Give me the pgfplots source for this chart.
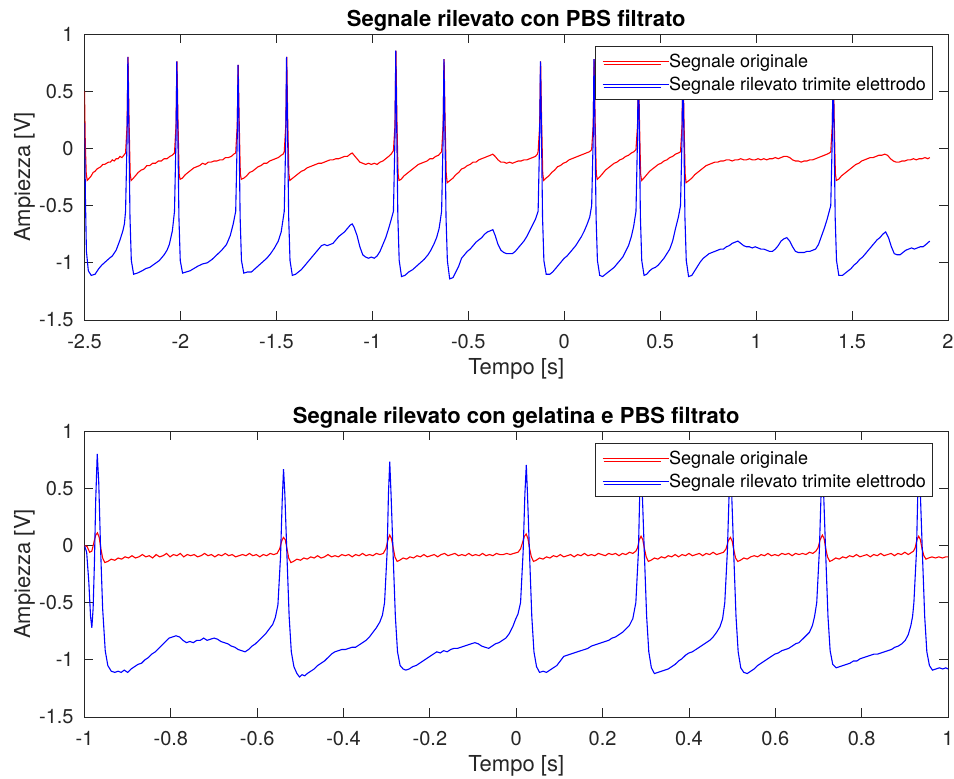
\documentclass[border=0pt]{standalone}
\usepackage{fontspec}
\setmainfont{TeX Gyre Heros}
\usepackage{pgfplots}
\pgfplotsset{compat=1.18}
\definecolor{axgray}{rgb}{0.15,0.15,0.15}
\definecolor{mred}{rgb}{1,0,0}
\definecolor{mblue}{rgb}{0,0,1}

\pgfplotsset{
  mlab/.style={
    scale only axis, width=431.75pt, height=143pt,
    ymin=-1.5, ymax=1, ytick={-1.5,-1,-0.5,0,0.5,1},
    axis line style={draw=axgray, line width=0.45pt},
    tick style={draw=axgray, line width=0.45pt},
    major tick length=4.3pt, tick align=inside,
    /pgf/number format/assume math mode=true,
    tick label style={font=\fontsize{10}{12}\selectfont, text=axgray},
    xticklabel style={anchor=base, yshift=-14.3pt},
    yticklabel style={anchor=east, inner sep=0pt, xshift=-5.25pt},
    every axis x label/.style={at={(axis description cs:0.5,-0.189)}, anchor=base,
      font=\fontsize{11}{13}\selectfont, text=axgray},
    every axis y label/.style={at={(axis description cs:-0.063,0.5)}, rotate=90, anchor=base,
      font=\fontsize{11}{13}\selectfont, text=axgray},
    every axis title shift=0pt,
    title style={at={(axis description cs:0.5,1.026)}, anchor=base,
      font=\bfseries\fontsize{11}{13}\selectfont},
    xlabel={Tempo [s]}, ylabel={Ampiezza [V]},
    legend style={at={(axis description cs:1,1)}, anchor=north east,
      xshift=-7.35pt, yshift=-6pt, draw=axgray, line width=0.45pt, fill=white,
      inner xsep=3.5pt, inner ysep=2.2pt, row sep=0.5pt,
      font=\fontsize{9}{11}\selectfont,
      nodes={inner sep=0pt, text height=8.5pt, text depth=2.3pt}},
    legend cell align=left,
    legend image code/.code={\draw[#1] (0.5pt,-1.4pt) -- (29pt,-1.4pt); \path (0pt,0pt) -- (33pt,0pt);},
  },
  sred/.style={mred, line width=0.55pt},
  sblue/.style={mblue, line width=0.55pt},
}

\begin{document}
\begin{tikzpicture}
\begin{axis}[mlab, at={(42.25pt,-17pt)}, anchor=north west,
  xmin=-2.5, xmax=2, xtick={-2.5,-2,-1.5,-1,-0.5,0,0.5,1,1.5,2},
  title={Segnale rilevato con PBS filtrato}]
\addplot[sred] coordinates {
(-2.500,0.50) (-2.496,0.05) (-2.491,-0.22) (-2.486,-0.28) (-2.475,-0.26) (-2.465,-0.24)
(-2.455,-0.21) (-2.445,-0.20) (-2.435,-0.18) (-2.425,-0.17) (-2.415,-0.16) (-2.405,-0.14)
(-2.395,-0.14) (-2.385,-0.13) (-2.375,-0.12) (-2.365,-0.12) (-2.355,-0.10) (-2.345,-0.11)
(-2.335,-0.09) (-2.325,-0.09) (-2.315,-0.07) (-2.305,-0.08) (-2.295,-0.06) (-2.286,-0.04)
(-2.278,0.20) (-2.273,0.80) (-2.268,0.25) (-2.262,-0.22) (-2.257,-0.28)
(-2.245,-0.26) (-2.235,-0.24) (-2.22,-0.21) (-2.205,-0.19) (-2.19,-0.18) (-2.175,-0.15)
(-2.16,-0.15) (-2.145,-0.13) (-2.13,-0.13) (-2.115,-0.11) (-2.10,-0.11) (-2.085,-0.09)
(-2.07,-0.09) (-2.055,-0.07) (-2.043,-0.06) (-2.031,-0.04)
(-2.023,0.20) (-2.018,0.76) (-2.013,0.25) (-2.007,-0.22) (-2.002,-0.27)
(-1.99,-0.26) (-1.975,-0.23) (-1.96,-0.21) (-1.945,-0.19) (-1.93,-0.17) (-1.915,-0.16)
(-1.90,-0.15) (-1.885,-0.13) (-1.87,-0.14) (-1.855,-0.12) (-1.84,-0.12) (-1.825,-0.11)
(-1.81,-0.11) (-1.795,-0.10) (-1.78,-0.10) (-1.765,-0.08) (-1.75,-0.08) (-1.735,-0.07)
(-1.722,-0.05) (-1.712,-0.04)
(-1.704,0.20) (-1.699,0.73) (-1.694,0.25) (-1.688,-0.22) (-1.683,-0.27)
(-1.67,-0.26) (-1.655,-0.24) (-1.64,-0.21) (-1.625,-0.20) (-1.61,-0.18) (-1.595,-0.16)
(-1.58,-0.15) (-1.565,-0.13) (-1.55,-0.13) (-1.535,-0.11) (-1.52,-0.10) (-1.505,-0.09)
(-1.49,-0.08) (-1.475,-0.06) (-1.465,-0.05) (-1.459,-0.03)
(-1.451,0.20) (-1.446,0.80) (-1.441,0.25) (-1.435,-0.22) (-1.430,-0.28)
(-1.415,-0.26) (-1.40,-0.24) (-1.385,-0.22) (-1.37,-0.20) (-1.355,-0.19) (-1.34,-0.17)
(-1.325,-0.16) (-1.31,-0.15) (-1.295,-0.14) (-1.28,-0.13) (-1.265,-0.13) (-1.25,-0.12)
(-1.235,-0.11) (-1.22,-0.10) (-1.205,-0.10) (-1.19,-0.09) (-1.175,-0.09) (-1.16,-0.08)
(-1.145,-0.07) (-1.13,-0.07) (-1.115,-0.05) (-1.105,-0.04) (-1.095,-0.06) (-1.08,-0.09)
(-1.065,-0.12) (-1.05,-0.13) (-1.035,-0.14) (-1.02,-0.13) (-1.005,-0.14) (-0.99,-0.13)
(-0.975,-0.14) (-0.96,-0.12) (-0.945,-0.11) (-0.93,-0.09) (-0.915,-0.07) (-0.902,-0.05)
(-0.890,-0.02)
(-0.882,0.20) (-0.877,0.855) (-0.872,0.25) (-0.866,-0.22) (-0.861,-0.28)
(-0.85,-0.27) (-0.835,-0.24) (-0.82,-0.22) (-0.805,-0.20) (-0.79,-0.18) (-0.775,-0.16)
(-0.76,-0.14) (-0.745,-0.13) (-0.73,-0.12) (-0.715,-0.11) (-0.70,-0.09) (-0.685,-0.09)
(-0.67,-0.07) (-0.655,-0.06) (-0.645,-0.04) (-0.639,-0.03)
(-0.631,0.20) (-0.626,0.78) (-0.621,0.25) (-0.615,-0.22) (-0.610,-0.30)
(-0.595,-0.28) (-0.58,-0.26) (-0.565,-0.23) (-0.55,-0.21) (-0.535,-0.18) (-0.52,-0.17)
(-0.505,-0.15) (-0.49,-0.14) (-0.475,-0.12) (-0.46,-0.12) (-0.445,-0.10) (-0.43,-0.09)
(-0.415,-0.08) (-0.40,-0.07) (-0.385,-0.06) (-0.372,-0.05) (-0.36,-0.07) (-0.345,-0.10)
(-0.33,-0.12) (-0.315,-0.12) (-0.30,-0.13) (-0.285,-0.12) (-0.27,-0.13) (-0.255,-0.12)
(-0.24,-0.11) (-0.225,-0.11) (-0.21,-0.10) (-0.195,-0.10) (-0.18,-0.09) (-0.165,-0.08)
(-0.15,-0.07) (-0.14,-0.05) (-0.136,-0.03)
(-0.128,0.20) (-0.123,0.76) (-0.118,0.25) (-0.112,-0.22) (-0.107,-0.28)
(-0.095,-0.26) (-0.08,-0.24) (-0.065,-0.21) (-0.05,-0.19) (-0.035,-0.16) (-0.02,-0.15)
(-0.005,-0.13) (0.01,-0.12) (0.025,-0.10) (0.04,-0.09) (0.055,-0.08) (0.07,-0.07)
(0.085,-0.06) (0.10,-0.05) (0.115,-0.04) (0.13,-0.03) (0.138,-0.02) (0.143,-0.01)
(0.151,0.20) (0.156,0.78) (0.161,0.25) (0.167,-0.22) (0.172,-0.27)
(0.185,-0.25) (0.20,-0.22) (0.215,-0.19) (0.23,-0.17) (0.245,-0.15) (0.26,-0.13)
(0.275,-0.12) (0.29,-0.10) (0.305,-0.09) (0.32,-0.07) (0.335,-0.06) (0.35,-0.04)
(0.362,-0.03) (0.374,-0.01)
(0.382,0.20) (0.387,0.78) (0.392,0.25) (0.398,-0.22) (0.403,-0.28)
(0.415,-0.26) (0.43,-0.23) (0.445,-0.20) (0.46,-0.18) (0.475,-0.16) (0.49,-0.14)
(0.505,-0.13) (0.52,-0.11) (0.535,-0.10) (0.55,-0.08) (0.565,-0.07) (0.58,-0.05)
(0.595,-0.04) (0.606,-0.03)
(0.614,0.20) (0.619,0.78) (0.624,0.25) (0.630,-0.22) (0.635,-0.30)
(0.65,-0.28) (0.665,-0.26) (0.68,-0.23) (0.695,-0.21) (0.71,-0.19) (0.725,-0.17)
(0.74,-0.15) (0.755,-0.14) (0.77,-0.13) (0.785,-0.12) (0.80,-0.12) (0.815,-0.11)
(0.83,-0.11) (0.845,-0.10) (0.86,-0.10) (0.875,-0.11) (0.89,-0.10) (0.905,-0.10)
(0.92,-0.09) (0.935,-0.10) (0.95,-0.10) (0.965,-0.09) (0.98,-0.10) (0.995,-0.10)
(1.01,-0.09) (1.025,-0.10) (1.04,-0.09) (1.055,-0.10) (1.07,-0.09) (1.085,-0.09)
(1.10,-0.08) (1.115,-0.09) (1.13,-0.08) (1.145,-0.07) (1.16,-0.07) (1.175,-0.08)
(1.19,-0.10) (1.205,-0.11) (1.22,-0.11) (1.235,-0.12) (1.25,-0.11) (1.265,-0.11)
(1.28,-0.10) (1.295,-0.10) (1.31,-0.09) (1.325,-0.08) (1.34,-0.07) (1.355,-0.06)
(1.37,-0.05) (1.382,-0.04) (1.389,-0.03)
(1.397,0.20) (1.402,0.75) (1.407,0.25) (1.413,-0.22) (1.418,-0.28)
(1.43,-0.27) (1.445,-0.24) (1.46,-0.22) (1.475,-0.20) (1.49,-0.18) (1.505,-0.16)
(1.52,-0.14) (1.535,-0.13) (1.55,-0.11) (1.565,-0.10) (1.58,-0.09) (1.595,-0.08)
(1.61,-0.08) (1.625,-0.07) (1.64,-0.06) (1.655,-0.06) (1.67,-0.05) (1.685,-0.06)
(1.70,-0.09) (1.715,-0.11) (1.73,-0.12) (1.745,-0.12) (1.76,-0.11) (1.775,-0.11)
(1.79,-0.10) (1.805,-0.10) (1.82,-0.09) (1.835,-0.10) (1.85,-0.09) (1.865,-0.09)
(1.88,-0.08) (1.895,-0.09) (1.905,-0.08)
};
\addplot[sblue] coordinates {
(-2.500,0.22) (-2.495,-0.45) (-2.490,-0.90) (-2.480,-1.07) (-2.465,-1.11) (-2.445,-1.10)
(-2.425,-1.05) (-2.41,-1.02) (-2.39,-0.99) (-2.37,-0.96) (-2.355,-0.94) (-2.335,-0.89)
(-2.315,-0.80) (-2.30,-0.72) (-2.292,-0.66) (-2.286,-0.55)
(-2.278,0.10) (-2.274,0.80) (-2.269,0.20) (-2.263,-0.60) (-2.256,-0.98) (-2.244,-1.10)
(-2.225,-1.09) (-2.20,-1.07) (-2.18,-1.05) (-2.16,-1.04) (-2.135,-1.01) (-2.11,-0.98)
(-2.085,-0.93) (-2.07,-0.89) (-2.058,-0.84) (-2.042,-0.72) (-2.031,-0.55)
(-2.023,0.10) (-2.019,0.76) (-2.014,0.20) (-2.008,-0.60) (-2.001,-0.98) (-1.989,-1.09)
(-1.97,-1.08) (-1.95,-1.07) (-1.93,-1.05) (-1.91,-1.03) (-1.885,-1.01) (-1.86,-1.00)
(-1.835,-0.97) (-1.81,-0.93) (-1.785,-0.89) (-1.76,-0.84) (-1.74,-0.76) (-1.725,-0.66)
(-1.712,-0.55)
(-1.704,0.10) (-1.700,0.73) (-1.695,0.20) (-1.689,-0.60) (-1.682,-0.98) (-1.670,-1.09)
(-1.65,-1.08) (-1.63,-1.08) (-1.61,-1.05) (-1.59,-1.02) (-1.57,-0.99) (-1.55,-0.96)
(-1.53,-0.92) (-1.51,-0.87) (-1.49,-0.81) (-1.475,-0.73) (-1.459,-0.55)
(-1.451,0.10) (-1.447,0.80) (-1.442,0.20) (-1.436,-0.60) (-1.429,-0.98) (-1.417,-1.11)
(-1.40,-1.10) (-1.385,-1.08) (-1.37,-1.06) (-1.355,-1.03) (-1.34,-1.00) (-1.325,-0.97)
(-1.31,-0.94) (-1.295,-0.91) (-1.28,-0.88) (-1.265,-0.85) (-1.25,-0.84) (-1.235,-0.85)
(-1.22,-0.84) (-1.205,-0.83) (-1.19,-0.80) (-1.175,-0.77) (-1.16,-0.75) (-1.145,-0.73)
(-1.13,-0.70) (-1.115,-0.67) (-1.105,-0.66) (-1.095,-0.69) (-1.08,-0.76) (-1.065,-0.86)
(-1.05,-0.93) (-1.035,-0.95) (-1.02,-0.96) (-1.005,-0.95) (-0.99,-0.96) (-0.975,-0.94)
(-0.96,-0.90) (-0.945,-0.84) (-0.93,-0.78) (-0.915,-0.70) (-0.903,-0.63) (-0.890,-0.55)
(-0.882,0.10) (-0.878,0.855) (-0.873,0.20) (-0.867,-0.60) (-0.860,-0.98) (-0.848,-1.12)
(-0.83,-1.11) (-0.81,-1.08) (-0.79,-1.06) (-0.77,-1.03) (-0.75,-1.00) (-0.73,-0.97)
(-0.71,-0.93) (-0.695,-0.89) (-0.68,-0.84) (-0.665,-0.78) (-0.652,-0.70) (-0.639,-0.55)
(-0.631,0.10) (-0.627,0.78) (-0.622,0.20) (-0.616,-0.60) (-0.609,-0.98) (-0.597,-1.14)
(-0.58,-1.13) (-0.565,-1.08) (-0.55,-1.03) (-0.535,-0.96) (-0.52,-0.93) (-0.505,-0.90)
(-0.49,-0.88) (-0.475,-0.85) (-0.46,-0.82) (-0.445,-0.80) (-0.43,-0.78) (-0.415,-0.75)
(-0.40,-0.73) (-0.385,-0.72) (-0.372,-0.71) (-0.36,-0.76) (-0.345,-0.84) (-0.33,-0.89)
(-0.315,-0.91) (-0.30,-0.92) (-0.285,-0.92) (-0.27,-0.92) (-0.255,-0.90) (-0.24,-0.87)
(-0.225,-0.84) (-0.21,-0.81) (-0.195,-0.77) (-0.18,-0.72) (-0.165,-0.67) (-0.15,-0.62)
(-0.136,-0.55)
(-0.128,0.10) (-0.124,0.76) (-0.119,0.20) (-0.113,-0.60) (-0.106,-0.98) (-0.094,-1.10)
(-0.075,-1.10) (-0.06,-1.08) (-0.045,-1.05) (-0.03,-1.02) (-0.015,-0.99) (0.00,-0.96)
(0.015,-0.94) (0.03,-0.91) (0.045,-0.88) (0.06,-0.85) (0.075,-0.81) (0.09,-0.77)
(0.105,-0.72) (0.12,-0.66) (0.133,-0.60) (0.143,-0.50)
(0.151,0.10) (0.155,0.78) (0.160,0.20) (0.166,-0.60) (0.173,-0.98) (0.185,-1.11)
(0.20,-1.12) (0.215,-1.10) (0.23,-1.08) (0.245,-1.06) (0.26,-1.04) (0.275,-1.01)
(0.29,-0.98) (0.305,-0.95) (0.32,-0.90) (0.335,-0.85) (0.35,-0.77) (0.362,-0.68)
(0.374,-0.55)
(0.382,0.10) (0.386,0.78) (0.391,0.20) (0.397,-0.60) (0.404,-0.98) (0.416,-1.11)
(0.43,-1.10) (0.445,-1.07) (0.46,-1.05) (0.475,-1.04) (0.49,-1.02) (0.505,-0.99)
(0.52,-0.96) (0.535,-0.92) (0.55,-0.88) (0.565,-0.81) (0.58,-0.70) (0.595,-0.60)
(0.606,-0.50)
(0.614,0.10) (0.618,0.78) (0.623,0.20) (0.629,-0.60) (0.636,-0.98) (0.648,-1.12)
(0.665,-1.11) (0.68,-1.07) (0.695,-1.03) (0.71,-0.99) (0.725,-0.96) (0.74,-0.94)
(0.755,-0.92) (0.77,-0.91) (0.785,-0.90) (0.80,-0.89) (0.815,-0.88) (0.83,-0.88)
(0.845,-0.86) (0.86,-0.85) (0.875,-0.83) (0.89,-0.82) (0.905,-0.81) (0.92,-0.83)
(0.935,-0.85) (0.95,-0.86) (0.965,-0.86) (0.98,-0.87) (0.995,-0.86) (1.01,-0.87)
(1.025,-0.88) (1.04,-0.88) (1.055,-0.89) (1.07,-0.90) (1.085,-0.90) (1.10,-0.88)
(1.115,-0.85) (1.13,-0.81) (1.145,-0.79) (1.16,-0.78) (1.175,-0.81) (1.19,-0.86)
(1.205,-0.90) (1.22,-0.91) (1.235,-0.91) (1.25,-0.91) (1.265,-0.90) (1.28,-0.90)
(1.295,-0.89) (1.31,-0.88) (1.325,-0.84) (1.34,-0.77) (1.355,-0.70) (1.37,-0.62)
(1.389,-0.50)
(1.397,0.10) (1.401,0.75) (1.406,0.20) (1.412,-0.60) (1.419,-0.98) (1.431,-1.11)
(1.45,-1.11) (1.465,-1.09) (1.48,-1.07) (1.495,-1.05) (1.51,-1.02) (1.525,-1.00)
(1.54,-0.97) (1.555,-0.95) (1.57,-0.92) (1.585,-0.89) (1.60,-0.86) (1.615,-0.83)
(1.63,-0.80) (1.645,-0.78) (1.66,-0.75) (1.675,-0.73) (1.69,-0.78) (1.705,-0.86)
(1.72,-0.92) (1.735,-0.93) (1.75,-0.93) (1.765,-0.91) (1.78,-0.89) (1.795,-0.88)
(1.81,-0.87) (1.825,-0.88) (1.84,-0.87) (1.855,-0.86) (1.87,-0.86) (1.885,-0.84)
(1.905,-0.81)
};
\legend{Segnale originale, Segnale rilevato trimite elettrodo}
\end{axis}

\begin{axis}[mlab, at={(42.25pt,-215.5pt)}, anchor=north west,
  xmin=-1, xmax=1, xtick={-1,-0.8,-0.6,-0.4,-0.2,0,0.2,0.4,0.6,0.8,1},
  title={Segnale rilevato con gelatina e PBS filtrato}]
\addplot[sred] coordinates {
(-1.000,0.00) (-0.994,-0.01) (-0.988,-0.06) (-0.983,-0.05) (-0.978,0.03) (-0.974,0.09)
(-0.970,0.11) (-0.966,0.07) (-0.962,-0.03) (-0.958,-0.11) (-0.953,-0.15) (-0.946,-0.14)
(-0.938,-0.12) (-0.930,-0.13) (-0.922,-0.11) (-0.914,-0.12) (-0.906,-0.10) (-0.898,-0.11)
(-0.890,-0.09) (-0.882,-0.11) (-0.874,-0.10) (-0.866,-0.08) (-0.858,-0.10) (-0.850,-0.09)
(-0.842,-0.11) (-0.834,-0.08) (-0.826,-0.10) (-0.818,-0.09) (-0.810,-0.07) (-0.802,-0.10)
(-0.794,-0.08) (-0.786,-0.09) (-0.778,-0.07) (-0.770,-0.10) (-0.762,-0.08) (-0.754,-0.09)
(-0.746,-0.08) (-0.738,-0.10) (-0.730,-0.09) (-0.722,-0.07) (-0.714,-0.09) (-0.706,-0.08)
(-0.698,-0.10) (-0.690,-0.08) (-0.682,-0.09) (-0.674,-0.07) (-0.666,-0.09) (-0.658,-0.08)
(-0.650,-0.10) (-0.642,-0.09) (-0.634,-0.08) (-0.626,-0.09) (-0.618,-0.07) (-0.610,-0.09)
(-0.602,-0.08) (-0.594,-0.10) (-0.586,-0.08) (-0.578,-0.09) (-0.570,-0.07) (-0.562,-0.08)
(-0.554,-0.07) (-0.548,-0.03) (-0.543,0.04) (-0.539,0.07) (-0.535,0.05) (-0.531,-0.03)
(-0.527,-0.11) (-0.522,-0.15) (-0.516,-0.14) (-0.508,-0.12) (-0.500,-0.13) (-0.492,-0.11)
(-0.484,-0.12) (-0.476,-0.10) (-0.468,-0.11) (-0.460,-0.09) (-0.452,-0.11) (-0.444,-0.10)
(-0.436,-0.08) (-0.428,-0.10) (-0.420,-0.09) (-0.412,-0.10) (-0.404,-0.08) (-0.396,-0.09)
(-0.388,-0.08) (-0.380,-0.10) (-0.372,-0.08) (-0.364,-0.09) (-0.356,-0.07) (-0.348,-0.09)
(-0.340,-0.08) (-0.332,-0.09) (-0.324,-0.07) (-0.316,-0.08) (-0.308,-0.07)
(-0.302,-0.03) (-0.297,0.05) (-0.293,0.09) (-0.289,0.06) (-0.285,-0.02) (-0.281,-0.10)
(-0.276,-0.14) (-0.270,-0.13) (-0.262,-0.11) (-0.254,-0.12) (-0.246,-0.10) (-0.238,-0.11)
(-0.230,-0.09) (-0.222,-0.10) (-0.214,-0.08) (-0.206,-0.10) (-0.198,-0.09) (-0.190,-0.08)
(-0.182,-0.10) (-0.174,-0.08) (-0.166,-0.07) (-0.158,-0.09) (-0.150,-0.08) (-0.142,-0.07)
(-0.134,-0.09) (-0.126,-0.08) (-0.118,-0.09) (-0.110,-0.07) (-0.102,-0.09) (-0.094,-0.08)
(-0.086,-0.09) (-0.078,-0.07) (-0.070,-0.09) (-0.062,-0.08) (-0.054,-0.09) (-0.046,-0.07)
(-0.038,-0.08) (-0.030,-0.08) (-0.022,-0.07) (-0.014,-0.08) (-0.006,-0.07) (0.004,-0.06)
(0.010,-0.03) (0.015,0.03) (0.019,0.08) (0.023,0.10) (0.027,0.06) (0.031,-0.03)
(0.035,-0.10) (0.040,-0.14) (0.046,-0.13) (0.054,-0.11) (0.062,-0.12) (0.070,-0.10)
(0.078,-0.11) (0.086,-0.09) (0.094,-0.10) (0.102,-0.08) (0.110,-0.10) (0.118,-0.09)
(0.126,-0.08) (0.134,-0.10) (0.142,-0.08) (0.150,-0.09) (0.158,-0.07) (0.166,-0.09)
(0.174,-0.08) (0.182,-0.09) (0.190,-0.07) (0.198,-0.08) (0.206,-0.09) (0.214,-0.07)
(0.222,-0.08) (0.230,-0.07) (0.238,-0.09) (0.246,-0.07) (0.254,-0.08) (0.262,-0.06)
(0.270,-0.07) (0.277,-0.05)
(0.281,-0.02) (0.285,0.05) (0.289,0.08) (0.293,0.05) (0.297,-0.03) (0.301,-0.10)
(0.306,-0.14) (0.312,-0.13) (0.320,-0.11) (0.328,-0.12) (0.336,-0.10) (0.344,-0.11)
(0.352,-0.09) (0.360,-0.10) (0.368,-0.08) (0.376,-0.10) (0.384,-0.08) (0.392,-0.09)
(0.400,-0.07) (0.408,-0.09) (0.416,-0.08) (0.424,-0.07) (0.432,-0.09) (0.440,-0.07)
(0.448,-0.08) (0.456,-0.06) (0.464,-0.08) (0.472,-0.07) (0.480,-0.06)
(0.486,-0.03) (0.491,0.04) (0.496,0.07) (0.500,0.04) (0.504,-0.04) (0.508,-0.11)
(0.513,-0.14) (0.519,-0.13) (0.527,-0.11) (0.535,-0.12) (0.543,-0.10) (0.551,-0.09)
(0.559,-0.10) (0.567,-0.08) (0.575,-0.09) (0.583,-0.07) (0.591,-0.09) (0.599,-0.08)
(0.607,-0.09) (0.615,-0.07) (0.623,-0.08) (0.631,-0.07) (0.639,-0.09) (0.647,-0.07)
(0.655,-0.08) (0.663,-0.07) (0.671,-0.08) (0.679,-0.06) (0.687,-0.07) (0.694,-0.05)
(0.699,-0.02) (0.704,0.05) (0.709,0.09) (0.713,0.06) (0.717,-0.03) (0.721,-0.10)
(0.726,-0.14) (0.732,-0.13) (0.740,-0.11) (0.748,-0.12) (0.756,-0.10) (0.764,-0.11)
(0.772,-0.09) (0.780,-0.10) (0.788,-0.08) (0.796,-0.10) (0.804,-0.09) (0.812,-0.08)
(0.820,-0.10) (0.828,-0.08) (0.836,-0.09) (0.844,-0.07) (0.852,-0.09) (0.860,-0.08)
(0.868,-0.07) (0.876,-0.09) (0.884,-0.07) (0.892,-0.08) (0.900,-0.06) (0.908,-0.08)
(0.916,-0.06) (0.920,-0.05)
(0.924,-0.02) (0.928,0.05) (0.932,0.08) (0.936,0.05) (0.940,-0.03) (0.944,-0.09)
(0.949,-0.12) (0.955,-0.11) (0.963,-0.10) (0.971,-0.11) (0.979,-0.10) (0.987,-0.11)
(0.995,-0.10) (1.000,-0.10)
};
\addplot[sblue] coordinates {
(-1.000,0.00) (-0.995,-0.06) (-0.990,-0.32) (-0.986,-0.62) (-0.983,-0.72) (-0.980,-0.55)
(-0.977,-0.15) (-0.974,0.40) (-0.9705,0.80) (-0.967,0.55) (-0.963,0.00) (-0.958,-0.55)
(-0.952,-0.92) (-0.946,-1.05) (-0.938,-1.10) (-0.930,-1.11) (-0.922,-1.10) (-0.915,-1.11)
(-0.908,-1.09) (-0.900,-1.11) (-0.892,-1.08) (-0.884,-1.06) (-0.876,-1.04) (-0.868,-1.03)
(-0.860,-1.00) (-0.852,-0.98) (-0.844,-0.95) (-0.836,-0.93) (-0.828,-0.90) (-0.820,-0.87)
(-0.812,-0.84) (-0.804,-0.81) (-0.796,-0.80) (-0.788,-0.79) (-0.780,-0.80) (-0.772,-0.83)
(-0.764,-0.85) (-0.756,-0.84) (-0.748,-0.85) (-0.740,-0.83) (-0.732,-0.83) (-0.724,-0.81)
(-0.716,-0.83) (-0.708,-0.82) (-0.700,-0.81) (-0.692,-0.82) (-0.684,-0.84) (-0.676,-0.85)
(-0.668,-0.86) (-0.660,-0.88) (-0.652,-0.89) (-0.644,-0.91) (-0.636,-0.92) (-0.628,-0.93)
(-0.620,-0.91) (-0.612,-0.88) (-0.604,-0.86) (-0.596,-0.83) (-0.588,-0.80) (-0.580,-0.77)
(-0.572,-0.73) (-0.564,-0.69) (-0.558,-0.63) (-0.552,-0.52) (-0.546,-0.10) (-0.542,0.40)
(-0.539,0.667) (-0.536,0.45) (-0.531,-0.10) (-0.526,-0.62) (-0.521,-0.93) (-0.515,-1.06)
(-0.508,-1.12) (-0.502,-1.15) (-0.496,-1.13) (-0.490,-1.14) (-0.484,-1.12) (-0.476,-1.10)
(-0.468,-1.08) (-0.460,-1.05) (-0.452,-1.03) (-0.444,-1.01) (-0.436,-0.98) (-0.428,-0.95)
(-0.420,-0.93) (-0.412,-0.92) (-0.404,-0.91) (-0.396,-0.91) (-0.388,-0.90) (-0.380,-0.89)
(-0.372,-0.89) (-0.364,-0.87) (-0.356,-0.85) (-0.348,-0.83) (-0.340,-0.80) (-0.332,-0.76)
(-0.324,-0.72) (-0.316,-0.67) (-0.310,-0.61) (-0.305,-0.50) (-0.299,-0.05) (-0.296,0.45)
(-0.293,0.733) (-0.290,0.45) (-0.285,-0.10) (-0.280,-0.62) (-0.275,-0.93) (-0.269,-1.05)
(-0.262,-1.08) (-0.256,-1.09) (-0.248,-1.08) (-0.240,-1.06) (-0.232,-1.05) (-0.224,-1.03)
(-0.216,-1.01) (-0.208,-0.99) (-0.200,-0.97) (-0.192,-0.95) (-0.184,-0.93) (-0.176,-0.94)
(-0.168,-0.92) (-0.160,-0.93) (-0.152,-0.91) (-0.144,-0.90) (-0.136,-0.90) (-0.128,-0.89)
(-0.120,-0.88) (-0.112,-0.87) (-0.104,-0.86) (-0.096,-0.85) (-0.088,-0.86) (-0.080,-0.88)
(-0.072,-0.89) (-0.064,-0.90) (-0.056,-0.88) (-0.048,-0.86) (-0.040,-0.85) (-0.032,-0.83)
(-0.024,-0.81) (-0.016,-0.77) (-0.008,-0.71) (-0.002,-0.65) (0.004,-0.60) (0.010,-0.50)
(0.016,-0.05) (0.020,0.45) (0.0233,0.704) (0.026,0.45) (0.031,-0.10) (0.036,-0.62)
(0.041,-0.93) (0.047,-1.06) (0.054,-1.11) (0.062,-1.10) (0.070,-1.11) (0.078,-1.09)
(0.086,-1.07) (0.094,-1.05) (0.102,-1.01) (0.110,-0.97) (0.118,-0.96) (0.126,-0.95)
(0.134,-0.94) (0.142,-0.93) (0.150,-0.92) (0.158,-0.91) (0.166,-0.90) (0.174,-0.88)
(0.182,-0.87) (0.190,-0.86) (0.198,-0.85) (0.206,-0.84) (0.214,-0.83) (0.222,-0.81)
(0.230,-0.80) (0.238,-0.78) (0.246,-0.76) (0.254,-0.73) (0.262,-0.70) (0.270,-0.64)
(0.277,-0.50) (0.283,-0.05) (0.286,0.45) (0.289,0.72) (0.292,0.45) (0.297,-0.10)
(0.302,-0.62) (0.307,-0.93) (0.313,-1.07) (0.320,-1.12) (0.328,-1.11) (0.336,-1.10)
(0.344,-1.09) (0.352,-1.08) (0.360,-1.06) (0.368,-1.04) (0.376,-1.01) (0.384,-0.99)
(0.392,-0.96) (0.400,-0.94) (0.408,-0.93) (0.416,-0.91) (0.424,-0.89) (0.432,-0.87)
(0.440,-0.85) (0.448,-0.83) (0.456,-0.80) (0.464,-0.76) (0.472,-0.71) (0.478,-0.64)
(0.483,-0.50) (0.489,-0.05) (0.493,0.45) (0.496,0.72) (0.499,0.45) (0.504,-0.10)
(0.509,-0.62) (0.514,-0.93) (0.520,-1.07) (0.527,-1.11) (0.535,-1.12) (0.543,-1.10)
(0.551,-1.08) (0.559,-1.05) (0.567,-1.03) (0.575,-1.01) (0.583,-0.99) (0.591,-0.97)
(0.599,-0.95) (0.607,-0.94) (0.615,-0.92) (0.623,-0.91) (0.631,-0.90) (0.639,-0.88)
(0.647,-0.86) (0.655,-0.85) (0.663,-0.82) (0.671,-0.79) (0.679,-0.76) (0.686,-0.70)
(0.691,-0.62) (0.696,-0.50) (0.702,-0.05) (0.706,0.45) (0.709,0.72) (0.712,0.45)
(0.717,-0.10) (0.722,-0.62) (0.727,-0.92) (0.733,-1.04) (0.741,-1.07) (0.749,-1.06)
(0.757,-1.05) (0.765,-1.04) (0.773,-1.03) (0.781,-1.01) (0.789,-1.01) (0.797,-0.99)
(0.805,-0.98) (0.813,-0.97) (0.821,-0.96) (0.829,-0.95) (0.837,-0.95) (0.845,-0.94)
(0.853,-0.93) (0.861,-0.92) (0.869,-0.91) (0.877,-0.89) (0.885,-0.88) (0.893,-0.86)
(0.901,-0.83) (0.908,-0.78) (0.914,-0.70) (0.918,-0.62) (0.921,-0.50) (0.927,-0.05)
(0.930,0.45) (0.9326,0.72) (0.936,0.45) (0.941,-0.10) (0.946,-0.62) (0.951,-0.93)
(0.957,-1.05) (0.964,-1.09) (0.972,-1.08) (0.980,-1.07) (0.988,-1.08) (0.995,-1.07)
(1.000,-1.08)
};
\legend{Segnale originale, Segnale rilevato trimite elettrodo}
\end{axis}
\pgfresetboundingbox
\path[use as bounding box] (0pt,0pt) rectangle (477pt,-389pt);
\end{tikzpicture}
\end{document}
